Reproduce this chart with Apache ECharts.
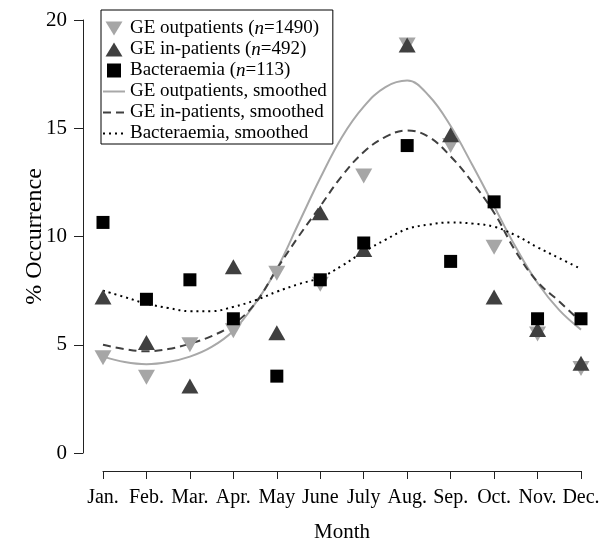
<!DOCTYPE html>
<html>
<head>
<meta charset="utf-8">
<script src="https://cdn.jsdelivr.net/npm/echarts@6/dist/echarts.min.js"></script>
<style>
  html, body { margin: 0; padding: 0; background: #fff; }
  #main { width: 601px; height: 543px; }
</style>
</head>
<body>
<div id="main"></div>
<script>
// months 1..12
var months = ['Jan.', 'Feb.', 'Mar.', 'Apr.', 'May', 'June', 'July', 'Aug.', 'Sep.', 'Oct.', 'Nov.', 'Dec.'];
var yTicks = [0, 5, 10, 15, 20];

// observed % occurrence
var outpatients = [4.4, 3.5, 5.0, 5.65, 8.3, 7.8, 12.8, 18.85, 14.2, 9.5, 5.5, 3.9];
var inpatients = [7.2, 5.1, 3.1, 8.6, 5.55, 11.1, 9.4, 18.85, 14.7, 7.2, 5.7, 4.15];
var bacteraemia = [10.65, 7.1, 8.0, 6.2, 3.55, 8.0, 9.7, 14.2, 8.85, 11.6, 6.2, 6.2];

// smoothed curves, read every half month
var smoothX = [1, 1.5, 2, 2.5, 3, 3.5, 4, 4.5, 5, 5.5, 6, 6.5, 7, 7.5, 8, 8.5, 9, 9.5, 10, 10.5, 11, 11.5, 12];
var outSmooth = [4.45, 4.2, 4.1, 4.2, 4.45, 4.9, 5.65, 6.9, 8.5, 10.6, 12.7, 14.6, 16.0, 16.9, 17.2, 16.5, 15.1, 13.3, 11.4, 9.5, 7.85, 6.6, 5.7];
var inSmooth = [5.0, 4.8, 4.7, 4.8, 5.05, 5.4, 5.95, 6.9, 8.5, 10.0, 11.4, 12.8, 13.9, 14.6, 14.9, 14.6, 13.7, 12.5, 11.1, 9.3, 7.9, 7.0, 6.05];
var bacSmooth = [7.5, 7.2, 6.9, 6.7, 6.55, 6.55, 6.75, 7.05, 7.45, 7.8, 8.1, 8.65, 9.3, 9.85, 10.35, 10.55, 10.65, 10.6, 10.45, 10.05, 9.5, 9.0, 8.5];

function pts(arr) {
  return arr.map(function (v, i) { return [i + 1, v]; });
}
function curve(arr) {
  return arr.map(function (v, i) { return [smoothX[i], v]; });
}

var serif = "'Liberation Serif', 'DejaVu Serif', serif";
var chartDom = document.getElementById('main');
var myChart = echarts.init(chartDom);
var noSym = { opacity: 0 };
var option = {
  animation: false,
  textStyle: { fontFamily: serif, color: '#000' },
  grid: { left: 103, right: 20, top: 20, bottom: 90, outerBoundsMode: 'none', containLabel: false },
  legend: {
    orient: 'vertical',
    left: 101,
    top: 10,
    padding: [9, 6, 1, 1],
    borderColor: '#000',
    borderWidth: 1,
    itemWidth: 22,
    itemHeight: 14,
    itemGap: 2,
    textStyle: {
      fontFamily: serif, fontSize: 19, color: '#000', lineHeight: 19,
      rich: { i: { fontFamily: serif, fontSize: 19, fontStyle: 'italic', color: '#000' } }
    },
    formatter: function (name) {
      return name.replace('(n=', '({i|n}=');
    },
    data: [
      { name: 'GE outpatients (n=1490)', icon: 'path://M0 0L17 0L8.5 14Z' },
      { name: 'GE in-patients (n=492)', icon: 'path://M8.5 0L17 14L0 14Z' },
      { name: 'Bacteraemia (n=113)', icon: 'path://M0 0L12 0L12 12L0 12Z' },
      { name: 'GE outpatients, smoothed', itemStyle: noSym },
      { name: 'GE in-patients, smoothed', itemStyle: noSym },
      { name: 'Bacteraemia, smoothed', itemStyle: noSym }
    ]
  },
  xAxis: {
    type: 'value',
    min: 1,
    max: 12,
    interval: 1,
    offset: 18,
    name: 'Month',
    nameLocation: 'middle',
    nameGap: 51,
    nameMoveOverlap: false,
    nameTextStyle: { fontFamily: serif, fontSize: 21, color: '#000' },
    axisLine: { onZero: false, lineStyle: { color: '#222', width: 1 } },
    axisTick: { length: 8, lineStyle: { color: '#222' } },
    axisLabel: {
      margin: 17, fontFamily: serif, fontSize: 20, color: '#000',
      formatter: function (v) { return months[v - 1] || ''; }
    },
    splitLine: { show: false }
  },
  yAxis: {
    type: 'value',
    min: yTicks[0],
    max: yTicks[yTicks.length - 1],
    interval: 5,
    offset: 20,
    name: '% Occurrence',
    nameLocation: 'middle',
    nameGap: 36,
    nameMoveOverlap: false,
    nameTextStyle: { fontFamily: serif, fontSize: 24, color: '#000' },
    axisLine: { show: true, onZero: false, lineStyle: { color: '#222', width: 1 } },
    axisTick: { show: true, length: 9, lineStyle: { color: '#222' } },
    axisLabel: { margin: 16, fontFamily: serif, fontSize: 21, color: '#000' },
    splitLine: { show: false }
  },
  series: [
    {
      name: 'GE outpatients, smoothed',
      type: 'line',
      data: curve(outSmooth),
      smooth: 0.4,
      symbol: 'none',
      lineStyle: { color: '#a8a8a8', width: 2 },
      itemStyle: { color: '#a8a8a8' },
      z: 2
    },
    {
      name: 'GE in-patients, smoothed',
      type: 'line',
      data: curve(inSmooth),
      smooth: 0.4,
      symbol: 'none',
      lineStyle: { color: '#404040', width: 2, type: [8, 5] },
      itemStyle: { color: '#404040' },
      z: 2
    },
    {
      name: 'Bacteraemia, smoothed',
      type: 'line',
      data: curve(bacSmooth),
      smooth: 0.4,
      symbol: 'none',
      lineStyle: { color: '#000', width: 2, type: [2, 4] },
      itemStyle: { color: '#000' },
      z: 2
    },
    {
      name: 'GE outpatients (n=1490)',
      type: 'scatter',
      data: pts(outpatients),
      symbol: 'triangle',
      symbolRotate: 180,
      symbolSize: [17, 15],
      itemStyle: { color: '#a6a6a6', opacity: 1 },
      z: 3
    },
    {
      name: 'GE in-patients (n=492)',
      type: 'scatter',
      data: pts(inpatients),
      symbol: 'triangle',
      symbolSize: [17, 15],
      itemStyle: { color: '#404040', opacity: 1 },
      z: 4
    },
    {
      name: 'Bacteraemia (n=113)',
      type: 'scatter',
      data: pts(bacteraemia),
      symbol: 'rect',
      symbolSize: 13,
      itemStyle: { color: '#000', opacity: 1 },
      z: 5
    }
  ]
};
myChart.setOption(option);
</script>
</body>
</html>
